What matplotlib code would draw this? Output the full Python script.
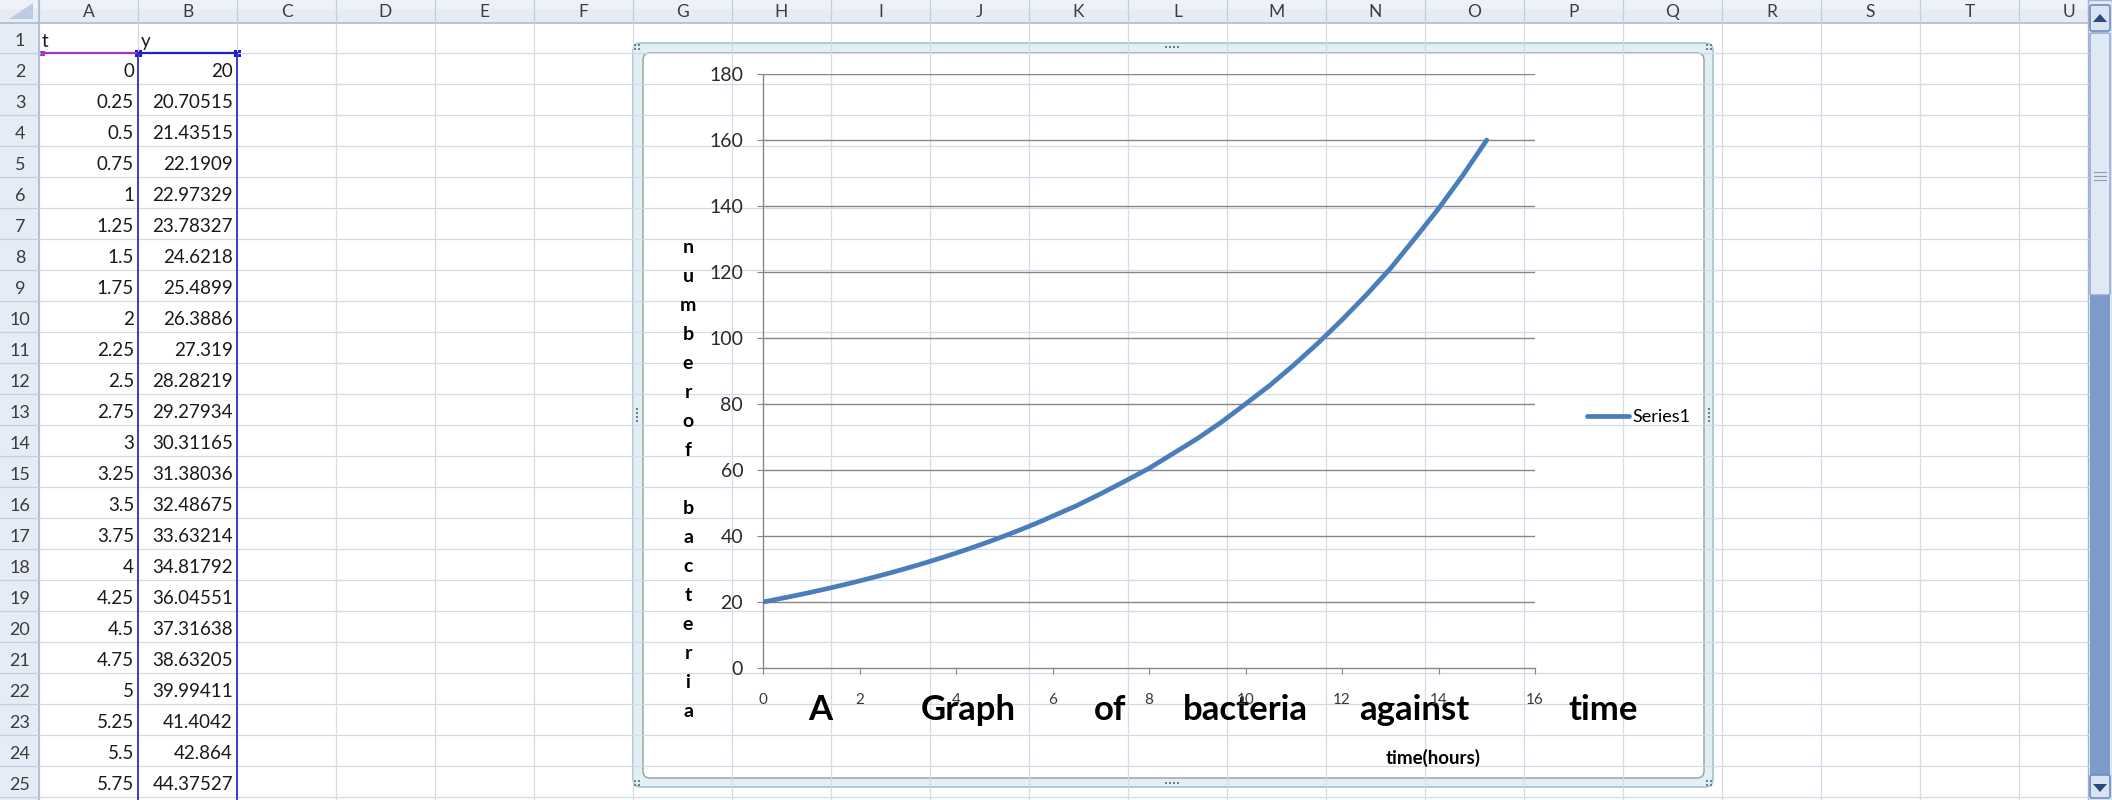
import matplotlib
matplotlib.use("Agg")
import matplotlib.pyplot as plt
from matplotlib.patches import Rectangle, FancyBboxPatch, Polygon

plt.rcParams['font.family'] = ['Lato', 'DejaVu Sans']

# values typed in the sheet (rows 2-25)
t_cells = [0, 0.25, 0.5, 0.75, 1, 1.25, 1.5, 1.75, 2, 2.25, 2.5, 2.75,
           3, 3.25, 3.5, 3.75, 4, 4.25, 4.5, 4.75, 5, 5.25, 5.5, 5.75]
y_cells = [20, 20.70515, 21.43515, 22.1909, 22.97329, 23.78327, 24.6218, 25.4899,
           26.3886, 27.319, 28.28219, 29.27934, 30.31165, 31.38036, 32.48675, 33.63214,
           34.81792, 36.04551, 37.31638, 38.63205, 39.99411, 41.4042, 42.864, 44.37527]

# rest of the curve (rows off screen)
t_more = [6, 6.5, 7, 7.5, 8, 8.5, 9, 9.5, 10, 10.5, 11, 11.5, 12, 12.5, 13, 13.5, 14, 14.5, 15]
y_more = [46, 49.2, 52.8, 56.6, 60.5, 65, 69.5, 74.5, 80, 85.6, 91.8, 98.4, 105.5,
          113, 121, 130, 139.2, 149.2, 160]

col_letters = ["A", "B", "C", "D", "E", "F", "G", "H", "I", "J", "K",
               "L", "M", "N", "O", "P", "Q", "R", "S", "T", "U"]
title_words = ["A", "Graph", "of", "bacteria", "against", "time"]
title_x = [820, 968, 1110, 1245, 1414, 1603]
y_label = "numberof bacteria"
x_label = "time(hours)"
series_name = "Series1"
y_ticks = [0, 20, 40, 60, 80, 100, 120, 140, 160, 180]
x_ticks = [0, 2, 4, 6, 8, 10, 12, 14, 16]

W, H = 2112, 800
COL0, COLW = 39, 99
HEAD_H, ROW1_BOT, ROWH = 23, 53, 31
SCROLL_X = 2088

GRID = "#d4dbe7"
HEAD_BG = "#e6ecf5"
HEAD_LINE = "#a9bcd3"
TEXT = "#1a1a1a"


def row_bottom(n):
    return ROW1_BOT + (n - 1) * ROWH


def num_text(v):
    return f"{v:.5f}".rstrip("0").rstrip(".")


fig = plt.figure(figsize=(W / 100, H / 100), dpi=100)
bg = fig.add_axes([0, 0, 1, 1])
bg.set_xlim(0, W)
bg.set_ylim(H, 0)
bg.axis("off")

# cell grid
for k in range(len(col_letters) + 1):
    x = COL0 + k * COLW
    if x < SCROLL_X:
        bg.plot([x, x], [HEAD_H, H], color=GRID, lw=0.9)
for n in range(1, 26):
    y = row_bottom(n)
    bg.plot([COL0, SCROLL_X], [y, y], color=GRID, lw=0.9)

# column header strip
bg.add_patch(Rectangle((0, 0), SCROLL_X, HEAD_H, facecolor=HEAD_BG, edgecolor="none"))
bg.add_patch(Rectangle((0, 0), SCROLL_X, 9, facecolor="#eef2f8", edgecolor="none"))
bg.plot([0, SCROLL_X], [HEAD_H, HEAD_H], color=HEAD_LINE, lw=1.2)
for k, letter in enumerate(col_letters):
    x = COL0 + k * COLW
    bg.plot([x, x], [0, HEAD_H], color="#c3cfde", lw=0.9)
    bg.text(x + COLW / 2, 17, letter, ha="center", va="baseline", fontsize=12.5, color="#3c3c3c")

# row numbers strip
bg.add_patch(Rectangle((0, HEAD_H), COL0, H - HEAD_H, facecolor=HEAD_BG, edgecolor="none"))
bg.plot([COL0, COL0], [0, H], color=HEAD_LINE, lw=1.2)
for n in range(1, 26):
    bg.plot([0, COL0], [row_bottom(n), row_bottom(n)], color="#c3cfde", lw=0.9)
    bg.text(20, row_bottom(n) - 7, str(n), ha="center", va="baseline", fontsize=13, color="#3c3c3c")

# corner box with the select-all triangle
bg.add_patch(Polygon([(33, 3), (33, 19), (9, 19)], closed=True, facecolor="#bccbe0", edgecolor="none"))

# sheet contents
bg.text(COL0 + 3, row_bottom(1) - 6, "t", ha="left", va="baseline", fontsize=13.5, color=TEXT)
bg.text(COL0 + COLW + 3, row_bottom(1) - 6, "y", ha="left", va="baseline", fontsize=13.5, color=TEXT)
for i in range(len(t_cells)):
    yb = row_bottom(i + 2) - 7
    bg.text(COL0 + COLW - 4, yb, num_text(t_cells[i]), ha="right", va="baseline", fontsize=13.5, color=TEXT)
    bg.text(COL0 + 2 * COLW - 4, yb, num_text(y_cells[i]), ha="right", va="baseline", fontsize=13.5, color=TEXT)

# chart data range highlight
bg.plot([COL0 + 3, COL0 + COLW], [ROW1_BOT, ROW1_BOT], color="#a035c0", lw=1.6)
bg.plot([COL0 + COLW, COL0 + 2 * COLW], [ROW1_BOT, ROW1_BOT], color="#2020c8", lw=1.6)
bg.plot([COL0 + COLW, COL0 + COLW], [ROW1_BOT, H], color="#2020c8", lw=1.2)
bg.plot([COL0 + 2 * COLW, COL0 + 2 * COLW], [ROW1_BOT, H], color="#2020c8", lw=1.2)
bg.add_patch(Rectangle((COL0 + 1, ROW1_BOT - 2.5), 5, 5, facecolor="#a035c0", edgecolor="none"))
for x in [COL0 + COLW, COL0 + 2 * COLW]:
    bg.add_patch(Rectangle((x - 3, ROW1_BOT - 3), 7, 7, facecolor="#1515d0", edgecolor="none"))

# chart frame (selected)
bg.add_patch(FancyBboxPatch((633, 43), 1080, 744, boxstyle="round,pad=0,rounding_size=8",
                            facecolor="#e1f0f4", edgecolor="#a9c7d2", lw=1.3))
bg.add_patch(FancyBboxPatch((643, 53), 1061, 725, boxstyle="round,pad=0,rounding_size=7",
                            facecolor="white", edgecolor="#9a9a9a", lw=1.0))
dots_x, dots_y = [], []
for cx, cy in [(637, 47), (1709, 47), (637, 783), (1709, 783)]:
    dots_x += [cx - 2, cx + 2, cx - 2, cx + 2]
    dots_y += [cy - 2, cy - 2, cy + 2, cy + 2]
for k in range(4):
    dots_x += [1166 + 4 * k, 1166 + 4 * k]
    dots_y += [47, 783]
    dots_x += [637, 1709]
    dots_y += [409 + 4 * k, 409 + 4 * k]
bg.scatter(dots_x, dots_y, s=2, color="#6d7f8c", marker="s", lw=0)

# y axis label, one letter per line
for i, ch in enumerate(y_label):
    bg.text(688, 253 + i * 29, ch, ha="center", va="baseline", fontsize=14, fontweight="bold", color="black")

# title words spread along the x axis
for word, x in zip(title_words, title_x):
    bg.text(x, 720, word, ha="center", va="baseline", fontsize=25, fontweight="bold", color="black")

bg.text(1433, 764, x_label, ha="center", va="baseline", fontsize=13.5, fontweight="bold", color="black")

# scrollbar
bg.add_patch(Rectangle((SCROLL_X, 0), W - SCROLL_X, H, facecolor="#e3ebf5", edgecolor="#9db3d0", lw=1))
bg.add_patch(Rectangle((SCROLL_X + 2, 295), W - SCROLL_X - 4, 480, facecolor="#7d9bc9", edgecolor="none"))
bg.add_patch(FancyBboxPatch((SCROLL_X + 2, 5), 20, 26, boxstyle="round,pad=0,rounding_size=2",
                            facecolor="#d8e4f3", edgecolor="#6f8dbd", lw=1.2))
bg.add_patch(Polygon([(2093, 22), (2107, 22), (2100, 14)], closed=True, facecolor="#2c4a78"))
bg.add_patch(FancyBboxPatch((SCROLL_X + 2, 33), 20, 262, boxstyle="round,pad=0,rounding_size=2",
                            facecolor="#dfe8f5", edgecolor="#8aa3cb", lw=1.0))
for gy in [172, 176, 180]:
    bg.plot([2094, 2106], [gy, gy], color="#8a9bb5", lw=0.8)
bg.add_patch(FancyBboxPatch((SCROLL_X + 2, 775), 20, 23, boxstyle="round,pad=0,rounding_size=2",
                            facecolor="#d8e4f3", edgecolor="#6f8dbd", lw=1.2))
bg.add_patch(Polygon([(2093, 784), (2107, 784), (2100, 792)], closed=True, facecolor="#2c4a78"))

# the chart itself
x0, x1, ytop, ybot = 763, 1535, 74, 668
ax = fig.add_axes([x0 / W, 1 - ybot / H, (x1 - x0) / W, (ybot - ytop) / H])
ax.patch.set_alpha(0)
ax.set_xlim(0, 16)
ax.set_ylim(0, 180)
ax.set_xticks(x_ticks)
ax.set_yticks(y_ticks)
for v in y_ticks[1:]:
    ax.axhline(v, color="#868686", lw=1.0, zorder=1)
for side in ["top", "right"]:
    ax.spines[side].set_visible(False)
for side in ["left", "bottom"]:
    ax.spines[side].set_color("#868686")
    ax.spines[side].set_linewidth(1.0)
ax.tick_params(axis="y", direction="out", length=4.3, color="#868686", pad=10, labelsize=14, labelcolor="#2a2a2a")
ax.tick_params(axis="x", direction="out", length=4.3, color="#868686", pad=14, labelsize=11, labelcolor="#3a3a3a")

ax.plot(t_cells + t_more, y_cells + y_more, color="#4a7ebb", lw=3.4, label=series_name,
        solid_capstyle="round", zorder=3)
ax.legend(loc="center left", bbox_to_anchor=(1578 / W, 1 - 417 / H), bbox_transform=fig.transFigure,
          frameon=False, fontsize=13, handlelength=2.3, handletextpad=0.2, borderpad=0)

plt.savefig("out.png", dpi=100)
